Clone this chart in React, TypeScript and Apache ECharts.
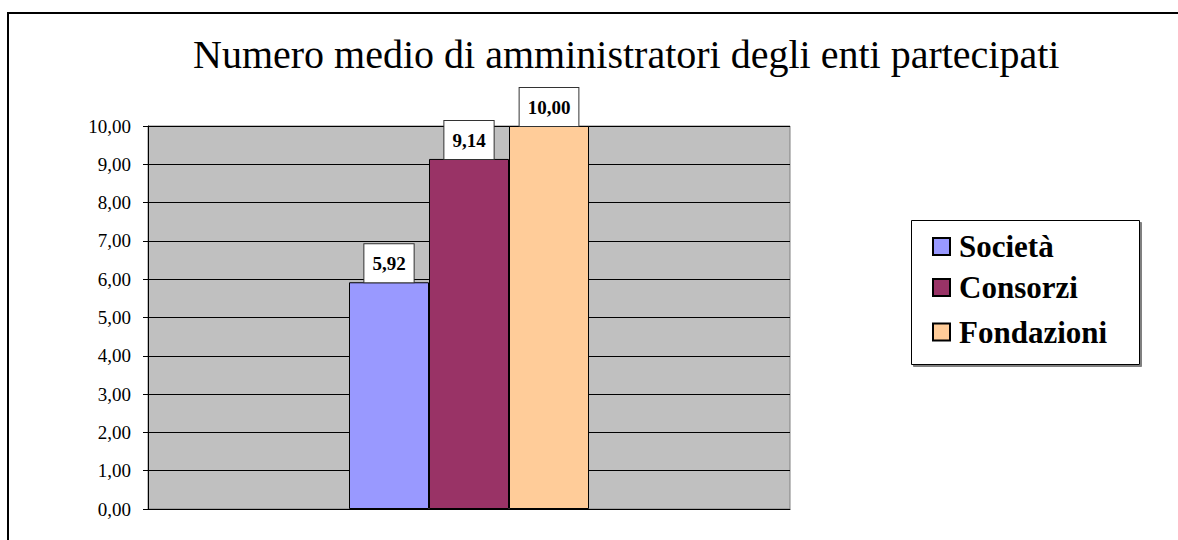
import React, { useEffect, useRef } from "react";
import * as echarts from "echarts";

const title = "Numero medio di amministratori degli enti partecipati";
const categories = [""];
const seriesNames = ["Società", "Consorzi", "Fondazioni"];
const seriesValues = [5.92, 9.14, 10.0];
const seriesColors = ["#9999FF", "#993366", "#FFCC99"];
const yTicks = [0, 1, 2, 3, 4, 5, 6, 7, 8, 9, 10];

const FONT = "'Liberation Serif', 'Times New Roman', serif";
const fmt = (v: number) => v.toFixed(2).replace(".", ",");

export default function App() {
  const ref = useRef<HTMLDivElement>(null);
  useEffect(() => {
    if (!ref.current) return;
    const chart = echarts.init(ref.current, null, { renderer: "svg" });
    const option: any = {
      animation: false,
      backgroundColor: "#FFFFFF",
      textStyle: { fontFamily: FONT },
      title: {
        text: title,
        left: 188,
        top: 29,
        textStyle: { fontFamily: FONT, fontSize: 40, fontWeight: "normal", color: "#000" },
      },
      graphic: [
        {
          type: "rect",
          z: 0,
          silent: true,
          shape: { x: 8, y: 13, width: 1200, height: 600 },
          style: { fill: "none", stroke: "#000", lineWidth: 2 },
        },
        {
          type: "rect",
          z: 1,
          silent: true,
          shape: { x: 911.5, y: 220.5, width: 228, height: 144 },
          style: {
            fill: "#fff",
            stroke: "#000",
            lineWidth: 1,
            shadowColor: "#808080",
            shadowOffsetX: 2,
            shadowOffsetY: 2,
            shadowBlur: 0,
          },
        },
      ],
      legend: {
        orient: "vertical",
        left: 911,
        top: 220,
        padding: [11, 10, 10, 21],
        itemWidth: 17,
        itemHeight: 17,
        itemGap: 10,
        icon: "rect",
        z: 5,
        data: seriesNames.map((n, i) =>
          i === 2 ? { name: n, textStyle: { padding: [8, 0, 0, 4] } } : { name: n }
        ),
        textStyle: {
          fontFamily: FONT,
          fontSize: 31,
          fontWeight: "bold",
          color: "#000",
          lineHeight: 30,
          padding: [0, 0, 0, 4],
        },
      },
      grid: {
        left: 148,
        right: 388,
        top: 126,
        bottom: 31,
        show: true,
        backgroundColor: "#C0C0C0",
        borderColor: "#808080",
        borderWidth: 1,
      },
      xAxis: {
        type: "category",
        data: categories,
        axisLine: { show: true, lineStyle: { color: "#000", width: 1 } },
        axisTick: { show: false },
        axisLabel: { show: false },
      },
      yAxis: {
        type: "value",
        min: yTicks[0],
        max: yTicks[yTicks.length - 1],
        interval: 1,
        axisLine: { show: true, lineStyle: { color: "#000", width: 1 } },
        axisTick: { show: true, length: 5, lineStyle: { color: "#000" } },
        axisLabel: {
          margin: 17,
          fontFamily: FONT,
          fontSize: 19,
          color: "#000",
          formatter: (v: number) => fmt(v),
        },
        splitLine: { show: true, lineStyle: { color: "#000", width: 1 } },
      },
      series: seriesNames.map((name, i) => ({
        name,
        type: "bar",
        data: [seriesValues[i]],
        barWidth: 80,
        barGap: "0%",
        itemStyle: { color: seriesColors[i], borderColor: "#000", borderWidth: 1 },
        label: {
          show: true,
          position: "top",
          distance: 0,
          formatter: (p: any) => fmt(p.value),
          fontFamily: FONT,
          fontSize: 19,
          fontWeight: "bold",
          color: "#000",
          backgroundColor: "#fff",
          borderColor: "#333",
          borderWidth: 1,
          padding: [10, 8, 9, 8],
          lineHeight: 19,
        },
      })),
    };
    chart.setOption(option);
    return () => chart.dispose();
  }, []);
  return (
    <div
      ref={ref}
      style={{ position: "fixed", left: 0, top: 0, width: 1178, height: 540 }}
    />
  );
}
